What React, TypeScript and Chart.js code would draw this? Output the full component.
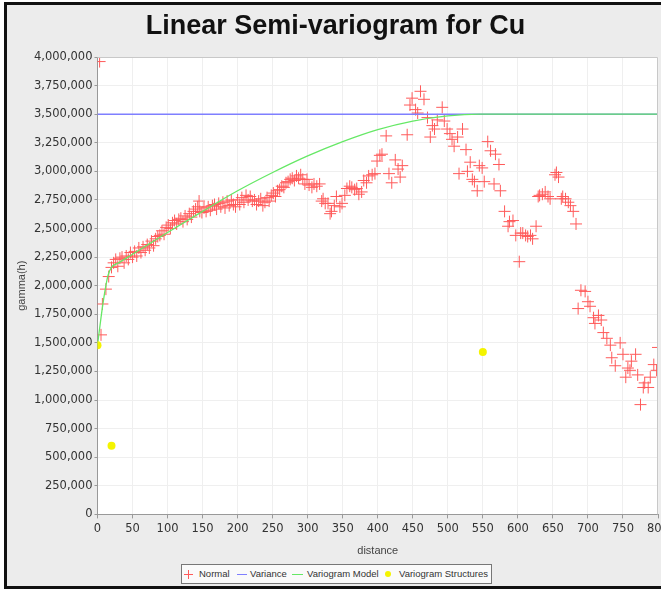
import React, { useEffect, useRef } from 'react';
import { Chart, registerables } from 'chart.js';

Chart.register(...registerables);

const chartTitle = 'Linear Semi-variogram for Cu';
const xAxisTitle = 'distance';
const yAxisTitle = 'gamma(h)';
const legendLabels = ['Normal', 'Variance', 'Variogram Model', 'Variogram Structures'];

const normalDistance = [
  3, 5, 7, 12, 16, 20, 23, 26, 29, 32, 35, 38, 41, 44, 47, 50, 53, 56, 59, 62, 65, 68, 71, 74, 77, 80,
  83, 86, 89, 92, 95, 98, 101, 104, 107, 110, 113, 116, 119, 122, 125, 128, 131, 134, 137, 140, 143,
  145, 146, 149, 152, 155, 158, 161, 164, 167, 170, 173, 176, 179, 182, 185, 188, 191, 194, 197, 200,
  203, 206, 209, 212, 215, 218, 221, 224, 227, 230, 233, 236, 239, 242, 245, 248, 251, 254, 257, 260,
  263, 266, 269, 272, 275, 278, 281, 284, 287, 290, 293, 296, 299, 302, 306, 309, 313, 317, 320, 322,
  325, 329, 332, 334, 338, 341, 346, 349, 353, 356, 360, 363, 367, 370, 373, 377, 380, 384, 387, 392,
  396, 399, 403, 406, 412, 416, 420, 425, 429, 432, 435, 442, 446, 449, 454, 457, 461, 466, 471, 475,
  478, 481, 485, 492, 495, 499, 503, 506, 509, 514, 516, 521, 526, 528, 532, 535, 538, 542, 545, 549,
  552, 557, 561, 566, 568, 573, 575, 581, 586, 588, 593, 597, 602, 604, 607, 611, 614, 618, 621, 626,
  629, 631, 635, 639, 643, 646, 653, 655, 658, 662, 664, 668, 672, 675, 679, 683, 686, 690, 696, 700,
  703, 708, 710, 715, 719, 722, 727, 732, 734, 739, 746, 750, 754, 757, 760, 762, 768, 771, 775, 779,
  781, 786, 789, 794, 798, 800,
];

const normalGamma = [
  3960000, 1570000, 1840000, 1970000, 2080000, 2160000, 2200000, 2230000, 2170000, 2240000, 2250000,
  2200000, 2260000, 2230000, 2290000, 2250000, 2300000, 2260000, 2330000, 2290000, 2340000, 2310000,
  2360000, 2330000, 2390000, 2350000, 2410000, 2430000, 2440000, 2480000, 2450000, 2510000, 2530000,
  2500000, 2550000, 2570000, 2540000, 2580000, 2590000, 2560000, 2610000, 2580000, 2630000, 2600000,
  2650000, 2670000, 2690000, 2740000, 2650000, 2640000, 2680000, 2650000, 2690000, 2660000, 2700000,
  2710000, 2670000, 2720000, 2690000, 2730000, 2680000, 2740000, 2700000, 2750000, 2710000, 2690000,
  2750000, 2710000, 2770000, 2730000, 2790000, 2750000, 2780000, 2740000, 2750000, 2710000, 2740000,
  2760000, 2700000, 2730000, 2770000, 2740000, 2790000, 2810000, 2780000, 2830000, 2840000, 2870000,
  2860000, 2900000, 2910000, 2930000, 2940000, 2920000, 2960000, 2940000, 2970000, 2930000, 2890000,
  2930000, 2880000, 2860000, 2890000, 2870000, 2890000, 2740000, 2760000, 2720000, 2720000, 2630000,
  2650000, 2700000, 2780000, 2690000, 2720000, 2790000, 2850000, 2870000, 2860000, 2840000, 2850000,
  2800000, 2820000, 2920000, 2900000, 2960000, 2970000, 2980000, 3090000, 3140000, 3150000, 3310000,
  2980000, 2900000, 3100000, 3020000, 2950000, 3050000, 3320000, 3580000, 3640000, 3540000, 3510000,
  3700000, 3630000, 3470000, 3300000, 3400000, 3370000, 3450000, 3560000, 3440000, 3370000, 3330000,
  3280000, 3220000, 3300000, 2980000, 3370000, 3190000, 3000000, 3080000, 2930000, 2910000, 2830000,
  3050000, 3030000, 2910000, 3260000, 3180000, 2890000, 3150000, 3060000, 2830000, 2650000, 2520000,
  2560000, 2570000, 2440000, 2210000, 2460000, 2460000, 2440000, 2430000, 2440000, 2410000, 2520000,
  2780000, 2790000, 2800000, 2820000, 2780000, 2760000, 2970000, 2990000, 2950000, 2760000, 2780000,
  2760000, 2730000, 2700000, 2650000, 2540000, 1800000, 1960000, 1950000, 1860000, 1820000, 1720000,
  1670000, 1740000, 1700000, 1590000, 1540000, 1480000, 1370000, 1300000, 1500000, 1400000, 1200000,
  1280000, 1260000, 1340000, 1400000, 1220000, 960000, 1110000, 1150000, 1110000, 1200000, 1310000,
  1260000, 1460000,
];

const varianceDistance = [0, 800];
const varianceGamma = [3500000, 3500000];

const modelDistance = [0, 5, 10, 15, 20, 30, 50, 75, 100, 150, 200, 250, 300, 350, 400, 450, 500, 545, 800];
const modelGamma = [
  1480000, 1720000, 1930000, 2090000, 2160000, 2200000, 2275000, 2370000, 2465000, 2650000, 2830000,
  2990000, 3135000, 3260000, 3365000, 3440000, 3485000, 3500000, 3500000,
];

const structureDistance = [0, 20, 550];
const structureGamma = [1480000, 600000, 1420000];

const xTicks = { min: 0, max: 800, step: 50 };
const yTicks = { min: 0, max: 4000000, step: 250000 };

const RED = '#ff5a5a';
const BLUE = '#7f7fff';
const GREEN = '#66e866';
const YELLOW = '#f4f400';

const toPoints = (xs: number[], ys: number[]) => xs.map((x, i) => ({ x, y: ys[i] }));

export default function App() {
  const ref = useRef<HTMLCanvasElement>(null);

  useEffect(() => {
    const canvas = ref.current;
    if (!canvas) return;

    const plotBg = {
      id: 'plotBg',
      beforeDraw(chart: any) {
        const { ctx, chartArea: a } = chart;
        ctx.save();
        ctx.fillStyle = '#ffffff';
        ctx.fillRect(a.left, a.top, a.right - a.left, a.bottom - a.top);
        ctx.restore();
      },
      afterDraw(chart: any) {
        const { ctx, chartArea: a } = chart;
        ctx.save();
        ctx.strokeStyle = '#c8c8c8';
        ctx.lineWidth = 1;
        ctx.beginPath();
        ctx.moveTo(a.left, a.top + 0.5);
        ctx.lineTo(a.right - 0.5, a.top + 0.5);
        ctx.lineTo(a.right - 0.5, a.bottom);
        ctx.stroke();
        ctx.restore();
      },
    };

    const chart = new Chart(canvas, {
      type: 'scatter',
      data: {
        datasets: [
          {
            label: legendLabels[0],
            data: toPoints(normalDistance, normalGamma),
            pointStyle: 'cross',
            pointRadius: 6,
            pointHoverRadius: 6,
            pointBorderWidth: 1,
            pointBorderColor: RED,
            pointBackgroundColor: RED,
            borderColor: RED,
            backgroundColor: RED,
            showLine: false,
            order: 4,
          },
          {
            label: legendLabels[1],
            data: toPoints(varianceDistance, varianceGamma),
            showLine: true,
            borderColor: BLUE,
            backgroundColor: BLUE,
            borderWidth: 1.5,
            pointRadius: 0,
            order: 2,
          },
          {
            label: legendLabels[2],
            data: toPoints(modelDistance, modelGamma),
            showLine: true,
            borderColor: GREEN,
            backgroundColor: GREEN,
            borderWidth: 1.3,
            pointRadius: 0,
            cubicInterpolationMode: 'monotone',
            order: 1,
          },
          {
            label: legendLabels[3],
            data: toPoints(structureDistance, structureGamma),
            pointStyle: 'circle',
            pointRadius: 4,
            pointBorderWidth: 0,
            pointBorderColor: YELLOW,
            pointBackgroundColor: YELLOW,
            borderColor: YELLOW,
            backgroundColor: YELLOW,
            showLine: false,
            order: 0,
          },
        ],
      },
      options: {
        responsive: false,
        animation: false,
        events: [],
        layout: { padding: { left: 13, right: 17, top: 0, bottom: 32.6 } },
        plugins: {
          legend: { display: false },
          tooltip: { enabled: false },
          title: {
            display: true,
            text: chartTitle,
            color: '#111111',
            font: { family: 'Liberation Sans', size: 27, weight: 'bold' },
            padding: { top: 10.8, bottom: 13.8 },
          },
        },
        scales: {
          x: {
            type: 'linear',
            min: xTicks.min,
            max: xTicks.max,
            ticks: {
              stepSize: xTicks.step,
              color: '#333333',
              font: { family: 'DejaVu Sans', size: 11.5 },
              padding: 4,
              maxRotation: 0,
              autoSkip: false,
            },
            grid: { color: '#efefef', tickLength: 4, tickColor: '#999999' },
            border: { color: '#999999' },
            title: {
              display: true,
              text: xAxisTitle,
              color: '#444444',
              font: { family: 'Liberation Sans', size: 11 },
              padding: { top: 4, bottom: 0 },
            },
          },
          y: {
            type: 'linear',
            min: yTicks.min,
            max: yTicks.max,
            ticks: {
              stepSize: yTicks.step,
              color: '#333333',
              font: { family: 'DejaVu Sans', size: 11.5 },
              padding: 2,
              callback: (v: any) => Number(v).toLocaleString('en-US'),
            },
            grid: { color: '#efefef', tickLength: 3, tickColor: '#999999' },
            border: { color: '#999999' },
            title: {
              display: true,
              text: yAxisTitle,
              color: '#444444',
              font: { family: 'Liberation Sans', size: 11 },
              padding: { top: 2, bottom: 0 },
            },
            afterFit: (scale: any) => {
              scale.width = 84.5;
            },
          },
        },
      },
      plugins: [plotBg],
    } as any);

    return () => chart.destroy();
  }, []);

  const textStyle: React.CSSProperties = {
    position: 'absolute',
    top: 0,
    lineHeight: '18px',
    fontFamily: 'Liberation Sans, Arial, sans-serif',
    fontSize: '9.5px',
    color: '#333',
    whiteSpace: 'nowrap',
  };

  return (
    <div
      style={{
        position: 'fixed',
        left: 0,
        top: 0,
        width: 661,
        height: 590,
        overflow: 'hidden',
        background: '#ffffff',
      }}
    >
      <div
        style={{
          position: 'absolute',
          left: 4,
          top: 2,
          width: 700,
          height: 581,
          border: '3px solid #111',
          background: '#ececec',
        }}
      />
      <canvas
        ref={ref}
        width={675}
        height={590}
        style={{ position: 'absolute', left: 0, top: 0, width: 675, height: 590 }}
      />
      <div
        style={{
          position: 'absolute',
          left: 181,
          top: 564,
          width: 311,
          height: 20,
          boxSizing: 'border-box',
          border: '1px solid #777',
          background: '#fafafa',
        }}
      >
        <div style={{ position: 'absolute', left: 2, top: 9, width: 9, height: 1, background: RED }} />
        <div style={{ position: 'absolute', left: 6, top: 5, width: 1, height: 9, background: RED }} />
        <span style={{ ...textStyle, left: 17 }}>{legendLabels[0]}</span>
        <div style={{ position: 'absolute', left: 55, top: 9, width: 10, height: 1, background: BLUE }} />
        <span style={{ ...textStyle, left: 68 }}>{legendLabels[1]}</span>
        <div style={{ position: 'absolute', left: 110, top: 9, width: 11, height: 1, background: GREEN }} />
        <span style={{ ...textStyle, left: 125 }}>{legendLabels[2]}</span>
        <div
          style={{
            position: 'absolute',
            left: 203,
            top: 6,
            width: 6,
            height: 6,
            borderRadius: '50%',
            background: YELLOW,
          }}
        />
        <span style={{ ...textStyle, left: 217 }}>{legendLabels[3]}</span>
      </div>
    </div>
  );
}
